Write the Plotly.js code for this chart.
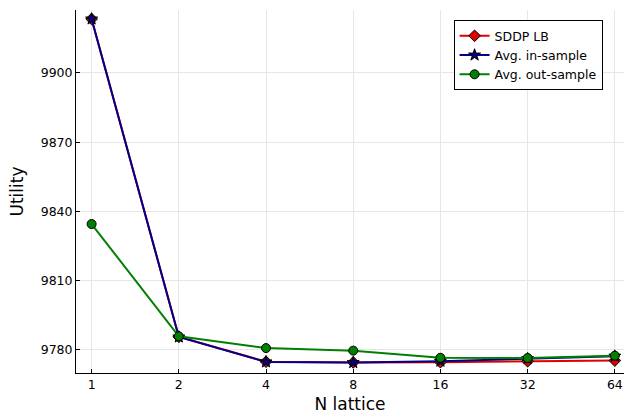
<!DOCTYPE html>
<html>
<head>
<meta charset="utf-8">
<script src="https://cdn.plot.ly/plotly-3.0.1.min.js"></script>
<style>html,body{margin:0;padding:0;background:#fff;}#chart{width:625px;height:414px;}</style>
</head>
<body>
<div id="chart"></div>
<script>
const nLattice = [1, 2, 4, 8, 16, 32, 64];
const sddpLB = [9923.4, 9785.6, 9774.8, 9774.5, 9774.6, 9775.0, 9775.3];
const avgInSample = [9923.4, 9785.5, 9774.7, 9774.4, 9775.0, 9776.1, 9777.2];
const avgOutSample = [9834.5, 9785.8, 9780.7, 9779.6, 9776.5, 9776.4, 9777.4];
const xTickLabels = ['1', '2', '4', '8', '16', '32', '64'];
const yTicks = [9780, 9810, 9840, 9870, 9900];
const yTickLabels = ['9780', '9810', '9840', '9870', '9900'];

const font = 'DejaVu Sans, sans-serif';
function tr(name, y, color, symbol, size) {
  return {
    x: nLattice, y: y, name: name, type: 'scatter', mode: 'lines+markers',
    line: {color: color, width: 2},
    marker: {symbol: symbol, size: size, color: color, line: {color: '#000', width: 1}}
  };
}
const data = [
  tr('SDDP LB', sddpLB, '#e00000', 'diamond', 9),
  tr('Avg. in-sample', avgInSample, '#00008b', 'star', 9),
  tr('Avg. out-sample', avgOutSample, '#008000', 'circle', 9)
];
const L = Math.log10(2);
const layout = {
  width: 625, height: 414,
  margin: {l: 76, r: 1, t: 10, b: 41},
  paper_bgcolor: '#fff', plot_bgcolor: '#fff',
  font: {family: font, size: 12, color: '#000'},
  showlegend: true,
  legend: {
    x: 0.689, y: 0.972, xanchor: 'left', yanchor: 'top',
    bgcolor: '#fff', bordercolor: '#000', borderwidth: 1,
    font: {family: font, size: 12.5}, tracegroupgap: 0
  },
  xaxis: {
    type: 'log', range: [-0.179 * L, 6.105 * L],
    tickvals: nLattice, ticktext: xTickLabels,
    ticks: 'inside', ticklen: 4, tickcolor: '#000',
    showgrid: true, gridcolor: '#e6e6e6', gridwidth: 1,
    showline: true, linecolor: '#000', linewidth: 1, mirror: false,
    zeroline: false,
    tickfont: {family: font, size: 12.5},
    title: {text: 'N lattice', font: {family: font, size: 17}, standoff: 8}
  },
  yaxis: {
    range: [9769.9, 9927.3],
    tickvals: yTicks, ticktext: yTickLabels,
    ticks: 'inside', ticklen: 4, tickcolor: '#000',
    showgrid: true, gridcolor: '#e6e6e6', gridwidth: 1,
    showline: true, linecolor: '#000', linewidth: 1, mirror: false,
    zeroline: false,
    tickfont: {family: font, size: 12.5},
    title: {text: 'Utility', font: {family: font, size: 17}, standoff: 12}
  }
};
Plotly.newPlot('chart', data, layout, {displayModeBar: false, staticPlot: true});
</script>
</body>
</html>
